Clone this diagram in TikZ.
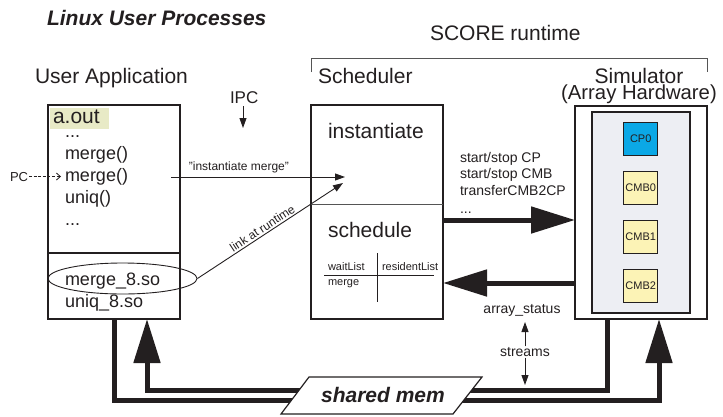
\documentclass[tikz,border=0pt]{standalone}
\usepackage{fontspec}
\setmainfont{Liberation Sans}
\usetikzlibrary{arrows.meta,shapes.geometric,calc}
\definecolor{ink}{HTML}{231F20}
\definecolor{hl}{HTML}{E8EAC6}
\definecolor{panel}{HTML}{EDEEF3}
\definecolor{cpblue}{HTML}{0BA8E6}
\definecolor{cmbyel}{HTML}{FCF3B6}
\definecolor{rule}{HTML}{555555}
\begin{document}
\begin{tikzpicture}[x=1pt,y=-1pt,
  txt/.style={inner sep=0pt, outer sep=0pt, text=ink},
  bigt/.style={txt, font=\fontsize{21}{24}\selectfont},
  midt/.style={txt, font=\fontsize{18}{21}\selectfont},
  smt/.style={txt, font=\fontsize{14}{16}\selectfont},
  tinyt/.style={txt, font=\fontsize{12}{14}\selectfont},
  microt/.style={txt, font=\fontsize{11}{13}\selectfont},
  frame/.style={draw=ink, line width=1.6pt, inner sep=0pt, outer sep=0pt, anchor=north west},
  chip/.style={draw=ink, line width=1.4pt, anchor=north west, minimum width=34pt, minimum height=33pt, inner sep=0pt, font=\fontsize{11}{13}\selectfont, text=ink},
  thin/.style={draw=ink, line width=0.9pt},
  heavy/.style={draw=ink, line width=5pt, line join=miter},
  bighead/.style={-{Triangle[length=44pt,width=26pt]}},
  smallhead/.style={-{Triangle[length=10pt,width=7pt]}},
]
\useasboundingbox (0,0) rectangle (723,416);

% headings
\node[bigt, anchor=base west, font=\fontsize{21}{24}\selectfont\bfseries\itshape] (title) at (47,25) {Linux User Processes};
\node[bigt, anchor=base west] (score) at (430,40) {SCORE runtime};
\draw[line width=0.9pt, draw=rule] (311,72) -- (311,58) -- (707,58) -- (707,72);
\node[bigt, anchor=base west] (uapp) at (35,83) {User Application};
\node[bigt, anchor=base west] (schedlbl) at (318,83) {Scheduler};
\node[bigt, anchor=base] (simlbl) at (639,83) {Simulator};
\node[txt, font=\fontsize{20.3}{22}\selectfont, anchor=base] (arrlbl) at (639,99) {(Array Hardware)};

% IPC
\node[txt, font=\fontsize{17}{19}\selectfont, anchor=base west] (ipc) at (230,103) {IPC};
\coordinate (ipcend) at (243,128);
\draw[thin, smallhead] (ipc.south -| ipcend) ++(0,3) -- (ipcend);

% User application box
\node[frame, minimum width=132pt, minimum height=214pt] (app) at (48,105) {};
\draw[line width=1.2pt, draw=ink] (app.west |- 0,253) -- (app.east |- 0,253);
\fill[hl] (50,108) rectangle (109,129);
\node[bigt, anchor=base west] (aout) at (53,123) {a.out};
\node[midt, anchor=base west] (d1) at (65,137) {...};
\node[midt, anchor=base west] (m1) at (65,159) {merge()};
\node[midt, anchor=base west] (m2) at (65,181) {merge()};
\node[midt, anchor=base west] (u1) at (65,203) {uniq()};
\node[midt, anchor=base west] (d2) at (65,225) {...};
\node[txt, font=\fontsize{13}{15}\selectfont, anchor=base west] (pc) at (10,181) {PC};
\draw[line width=0.8pt, draw=ink, dash pattern=on 3pt off 1.6pt, -{Straight Barb[length=4pt,width=7pt]}] ([xshift=1pt]pc.east) -- ([xshift=-4pt]pc.east -| m2.west);
\node[draw=ink, line width=0.9pt, ellipse, minimum width=149pt, minimum height=31pt, inner sep=0pt] (ell) at (122.5,278.5) {};
\node[midt, anchor=base west] (ms) at (65,285) {merge\_8.so};
\node[midt, anchor=base west] (us) at (65,307) {uniq\_8.so};

% Scheduler box
\node[frame, minimum width=132pt, minimum height=214pt] (sched) at (311,105) {};
\coordinate (sdiv) at (0,204);
\draw[line width=1pt, draw=rule] (sched.west |- sdiv) -- (sched.east |- sdiv);
\node[bigt, anchor=base west] (inst) at (328,138) {instantiate};
\node[bigt, anchor=base west] (schd) at (328,237) {schedule};
\node[microt, anchor=base west] (wl) at (328,270) {waitList};
\node[microt, anchor=base west] (rl) at (382,270) {residentList};
\node[microt, anchor=base west] (wm) at (328,285) {merge};
\draw[line width=0.9pt, draw=ink] (324,275) -- (434,275);
\draw[line width=0.9pt, draw=ink] (377,253) -- (377,302);

% instantiate merge / link at runtime
\coordinate (ia) at (171,177);
\coordinate (ib) at (345,177);
\draw[thin, smallhead] (ia) -- node[pos=0.39, above=4pt, tinyt] {"instantiate merge"} (ib);
\coordinate (lb) at (343,183);
\draw[thin, smallhead] (ell.east) -- node[pos=0.47, above=2pt, sloped, tinyt] {link at runtime} (lb);

% Simulator box
\node[frame, minimum width=132pt, minimum height=213pt] (sim) at (575,106) {};
\node[frame, line width=1.2pt, fill=panel, minimum width=98pt, minimum height=201pt] (pan) at (592,112) {};
\node[chip, fill=cpblue] (cp0) at (623,122) {CP0};
\node[chip, fill=cmbyel] (cmb0) at (623,171) {CMB0};
\node[chip, fill=cmbyel] (cmb1) at (623,220) {CMB1};
\node[chip, fill=cmbyel] (cmb2) at (623,269) {CMB2};

% scheduler <-> simulator
\coordinate (r1) at (0,220);
\coordinate (r2) at (0,283);
\draw[heavy, bighead] (sched.east |- r1) -- (sim.west |- r1);
\draw[heavy, bighead] (sim.west |- r2) -- (sched.east |- r2);
\node[smt, anchor=base west] (c1) at (460,162) {start/stop CP};
\node[smt, anchor=base west] (c2) at (460,178) {start/stop CMB};
\node[smt, anchor=base west] (c3) at (460,195) {transferCMB2CP};
\node[smt, anchor=base west] (c4) at (460,213) {...};
\node[smt, anchor=base] (ast) at (522,313) {array\_status};

% streams
\node[smt, fill=white, inner sep=1pt] (strm) at (525,352) {streams};
\coordinate (st1) at (525,322);
\coordinate (st2) at (525,385);
\draw[thin, smallhead] (strm.north) -- (st1);
\draw[thin, smallhead] (strm.south) -- (st2);

% shared memory loops
\coordinate (oL) at (114,400);
\coordinate (oR) at (659,400);
\coordinate (iL) at (147,390);
\coordinate (iR) at (607,390);
\draw[heavy, bighead] (app.south -| oL) -- (oL) -- (oR) -- (sim.south -| oR);
\draw[heavy, bighead] (sim.south -| iR) -- (iR) -- (iL) -- (app.south -| iL);

\coordinate (p1) at (309,377);
\coordinate (p2) at (482,377);
\coordinate (p3) at (453,414);
\coordinate (p4) at (281,414);
\draw[fill=white, draw=ink, line width=1.2pt, line join=miter] (p1) -- (p2) -- (p3) -- (p4) -- cycle;
\node[txt, font=\fontsize{21}{24}\selectfont\bfseries\itshape] (shm) at (383,395) {shared mem};
\end{tikzpicture}
\end{document}
